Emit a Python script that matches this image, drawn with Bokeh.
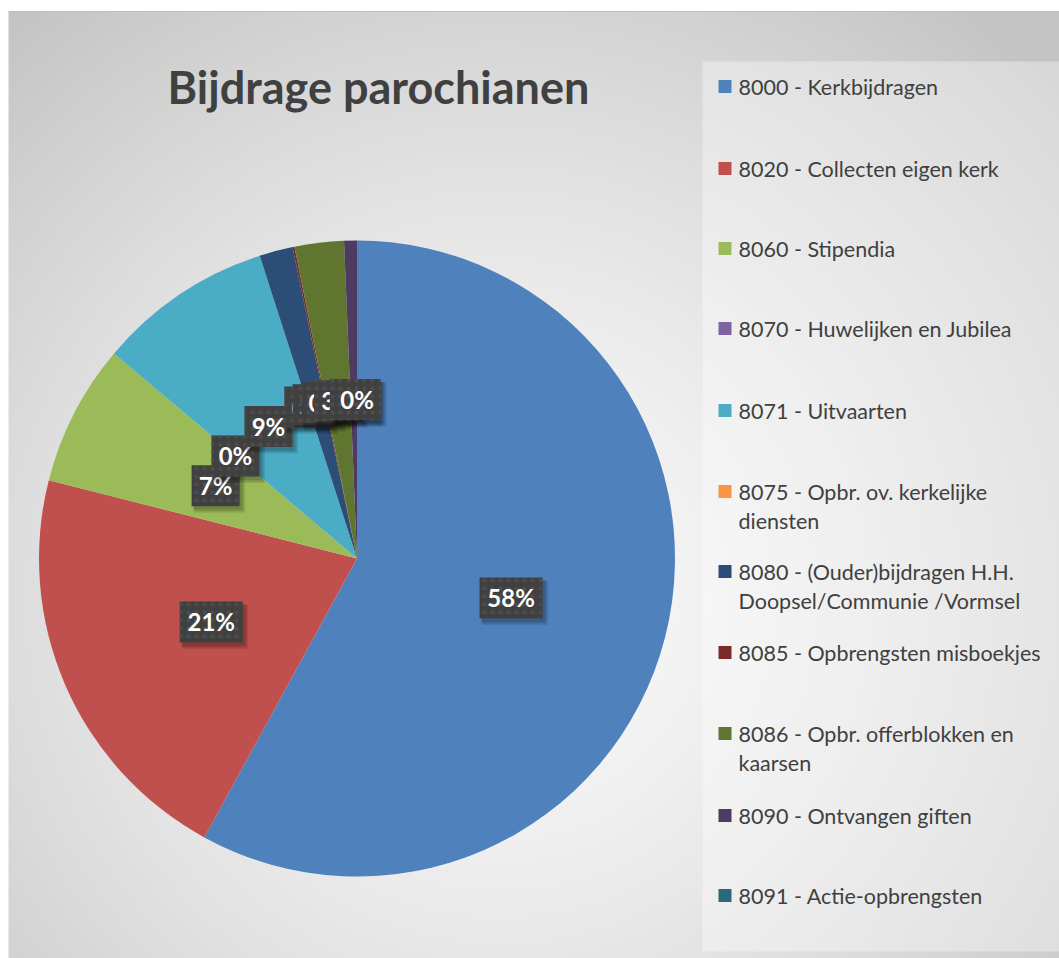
import numpy as np
from bokeh.plotting import figure
from bokeh.models import Range1d, ColumnDataSource
from bokeh.embed import file_html
from bokeh.resources import INLINE
from bokeh.core.properties import value

# ---------------- data ----------------
title = "Bijdrage parochianen"
categories = [
    "8000 - Kerkbijdragen",
    "8020 - Collecten eigen kerk",
    "8060 - Stipendia",
    "8070 - Huwelijken en Jubilea",
    "8071 - Uitvaarten",
    "8075 - Opbr. ov. kerkelijke diensten",
    "8080 - (Ouder)bijdragen H.H. Doopsel/Communie /Vormsel",
    "8085 - Opbrengsten misboekjes",
    "8086 - Opbr. offerblokken en kaarsen",
    "8090 - Ontvangen giften",
    "8091 - Actie-opbrengsten",
]
legend_lines = [
    ["8000 - Kerkbijdragen"],
    ["8020 - Collecten eigen kerk"],
    ["8060 - Stipendia"],
    ["8070 - Huwelijken en Jubilea"],
    ["8071 - Uitvaarten"],
    ["8075 - Opbr. ov. kerkelijke", "diensten"],
    ["8080 - (Ouder)bijdragen H.H.", "Doopsel/Communie /Vormsel"],
    ["8085 - Opbrengsten misboekjes"],
    ["8086 - Opbr. offerblokken en", "kaarsen"],
    ["8090 - Ontvangen giften"],
    ["8091 - Actie-opbrengsten"],
]
shares = [58.0, 21.0, 7.2, 0.0, 8.9, 0.0, 1.7, 0.1, 2.5, 0.65, 0.0]
labels = ["58%", "21%", "7%", "0%", "9%", "0%", "2%", "0%", "3%", "1%", "0%"]
colors = ["#4F81BD", "#C0504D", "#9BBB59", "#8064A2", "#4BACC6", "#F79646",
          "#2C4D75", "#772C2A", "#5F7530", "#4D3B62", "#276A7C"]

W, H = 1059, 958
FONT = "Lato"

def Y(ys):
    return H - ys

p = figure(width=W, height=H, output_backend="svg", toolbar_location=None,
           x_range=Range1d(0, W), y_range=Range1d(0, H), min_border=0)
p.axis.visible = False
p.grid.visible = False
p.outline_line_color = None
p.background_fill_color = "white"
p.border_fill_color = "white"

# ---------------- background (radial gradient) ----------------
x0, y0, x1, y1 = 8, 11, W, H
gw, gh = x1 - x0, y1 - y0
xx, yy = np.meshgrid(np.arange(gw) + x0, np.arange(gh) + y0)
d = np.sqrt((xx - 500.0) ** 2 + (yy - 600.0) ** 2) / 760.0
d = np.clip(d, 0, 1)
g = (250 - (250 - 196) * d ** 1.4).astype(np.uint32)
img = (255 << 24) | (g << 16) | (g << 8) | g
img = img[::-1, :]  # flip so row 0 is bottom
p.image_rgba(image=[img.astype(np.uint32)], x=x0, y=H - y1, dw=gw, dh=gh)
p.segment(x0=[x0], y0=[Y(11)], x1=[W], y1=[Y(11)], line_color="#bdbdbd", line_width=1)

# legend box
p.quad(left=[702], right=[W], top=[Y(61)], bottom=[Y(951)],
       fill_color="white", fill_alpha=0.35, line_color=None)

# ---------------- pie ----------------
vals = np.array(shares, dtype=float)
frac = vals / vals.sum()
cum = np.concatenate([[0.0], np.cumsum(frac)])
start = np.pi / 2 - cum[:-1] * 2 * np.pi
end = np.pi / 2 - cum[1:] * 2 * np.pi
cx, cy, R = 356.5, 558.0, 318
keep = frac > 0
src = ColumnDataSource(dict(start=start[keep], end=end[keep],
                            color=[c for c, k in zip(colors, keep) if k]))
p.wedge(x=cx, y=Y(cy), radius=R, radius_units="screen", start_angle="start",
        end_angle="end", direction="clock", fill_color="color", line_color=None,
        source=src)

# ---------------- data labels ----------------
mid = (start + end) / 2
lr = R * 0.5
lx = cx + lr * np.cos(mid)
ly = Y(cy) + lr * np.sin(mid)
bw = np.array([18 + 15 * len(t) for t in labels], dtype=float)
bh = 41
for i in range(len(labels)):
    for k, a in enumerate([0.10, 0.10, 0.10]):
        p.rect(x=[lx[i] + 2 + k], y=[ly[i] - 3 - k], width=[bw[i] + 1 + k], height=[bh + 1 + k],
               fill_color="black", fill_alpha=a, line_color=None)
    p.rect(x=[lx[i]], y=[ly[i]], width=[bw[i]], height=[bh],
           fill_color="#404040", line_color=None,
           hatch_pattern="dot", hatch_color="#4d4d4d", hatch_scale=8, hatch_weight=1)
    p.text(x=[lx[i]], y=[ly[i]], text=[labels[i]], text_align="center",
           text_baseline="middle", text_color="white", text_font=value(FONT),
           text_font_style="bold", text_font_size="24px")

# ---------------- title ----------------
p.text(x=[378], y=[Y(86)], text=[title], text_align="center", text_baseline="middle",
       text_color="#404040", text_font=value(FONT), text_font_style="bold",
       text_font_size="45px")

# ---------------- legend ----------------
first_y = [86, 168, 248, 328, 410, 491, 571, 652, 733, 815, 895]
for i, lines in enumerate(legend_lines):
    yy0 = first_y[i]
    p.rect(x=[724.5], y=[Y(yy0)], width=[13], height=[13], fill_color=colors[i],
           line_color=None)
    for k, ln in enumerate(lines):
        p.text(x=[738], y=[Y(yy0 + 29 * k)], text=[ln], text_align="left",
               text_baseline="middle", text_color="#404040", text_font=value(FONT),
               text_font_size="21.5px")

open("out.html", "w").write(file_html(p, INLINE))
